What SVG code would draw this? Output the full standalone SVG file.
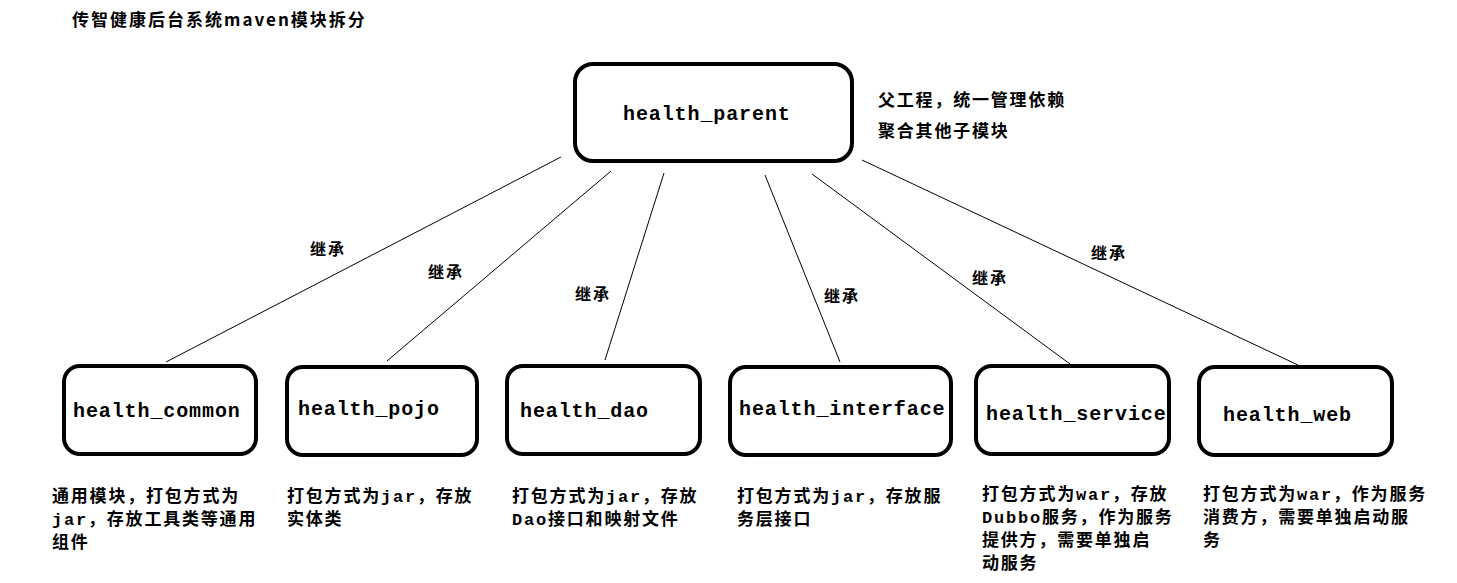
<svg xmlns="http://www.w3.org/2000/svg" width="1457" height="583" viewBox="0 0 1457 583">
<style>
.box{fill:#fff;stroke:#000;stroke-width:4}
.lbl{font-family:"Liberation Mono","DejaVu Sans Mono",monospace;font-size:20px;font-weight:bold;letter-spacing:0.9px;fill:#000}
.cn{font-family:"Liberation Mono","Noto Sans CJK SC",monospace;font-size:17px;font-weight:bold;letter-spacing:1.8px;fill:#000}
.inh{font-family:"Noto Sans CJK SC",sans-serif;font-size:16px;font-weight:bold;letter-spacing:2px;fill:#000}
.title{font-family:"Noto Sans CJK SC",sans-serif;font-size:17px;font-weight:bold;letter-spacing:2px;fill:#000}
.conn line{stroke:#000;stroke-width:1}
</style>
<rect width="1457" height="583" fill="#fff"/>
<text class="title" x="72" y="26">传智健康后台系统maven模块拆分</text>
<g id="connectors" class="conn">
<line x1="561" y1="157" x2="166" y2="362"/>
<line x1="611" y1="171" x2="387" y2="361"/>
<line x1="664" y1="173" x2="605" y2="360"/>
<line x1="765" y1="175" x2="840" y2="362"/>
<line x1="812" y1="174" x2="1070" y2="364"/>
<line x1="862" y1="160" x2="1298" y2="365"/>
<text class="inh" x="310" y="255">继承</text>
<text class="inh" x="428" y="278">继承</text>
<text class="inh" x="575" y="300">继承</text>
<text class="inh" x="824" y="302">继承</text>
<text class="inh" x="972" y="284">继承</text>
<text class="inh" x="1091" y="259">继承</text>
</g>
<g id="health_parent">
<rect class="box" x="575" y="64" width="277" height="97" rx="18"/>
<text class="lbl" x="623" y="120">health_parent</text>
<text class="cn" x="878" y="106">父工程，统一管理依赖</text>
<text class="cn" x="878" y="137">聚合其他子模块</text>
</g>
<g id="health_common">
<rect class="box" x="64" y="366" width="192" height="88" rx="16"/>
<text class="lbl" x="73" y="417">health_common</text>
<text class="cn" x="52" y="502">通用模块，打包方式为</text>
<text class="cn" x="52" y="525">jar，存放工具类等通用</text>
<text class="cn" x="52" y="548">组件</text>
</g>
<g id="health_pojo">
<rect class="box" x="287" y="367" width="190" height="88" rx="16"/>
<text class="lbl" x="298" y="415">health_pojo</text>
<text class="cn" x="287" y="502">打包方式为jar，存放</text>
<text class="cn" x="287" y="525">实体类</text>
</g>
<g id="health_dao">
<rect class="box" x="507" y="366" width="193" height="88" rx="16"/>
<text class="lbl" x="520" y="417">health_dao</text>
<text class="cn" x="512" y="502">打包方式为jar，存放</text>
<text class="cn" x="512" y="525">Dao接口和映射文件</text>
</g>
<g id="health_interface">
<rect class="box" x="730" y="367" width="221" height="88" rx="16"/>
<text class="lbl" x="739" y="415">health_interface</text>
<text class="cn" x="737" y="502">打包方式为jar，存放服</text>
<text class="cn" x="737" y="525">务层接口</text>
</g>
<g id="health_service">
<rect class="box" x="976" y="366" width="193" height="88" rx="16"/>
<text class="lbl" x="986" y="420">health_service</text>
<text class="cn" x="982" y="500">打包方式为war，存放</text>
<text class="cn" x="982" y="523">Dubbo服务，作为服务</text>
<text class="cn" x="982" y="546">提供方，需要单独启</text>
<text class="cn" x="982" y="569">动服务</text>
</g>
<g id="health_web">
<rect class="box" x="1199" y="367" width="193" height="88" rx="16"/>
<text class="lbl" x="1223" y="421">health_web</text>
<text class="cn" x="1203" y="500">打包方式为war，作为服务</text>
<text class="cn" x="1203" y="523">消费方，需要单独启动服</text>
<text class="cn" x="1203" y="546">务</text>
</g>
</svg>
